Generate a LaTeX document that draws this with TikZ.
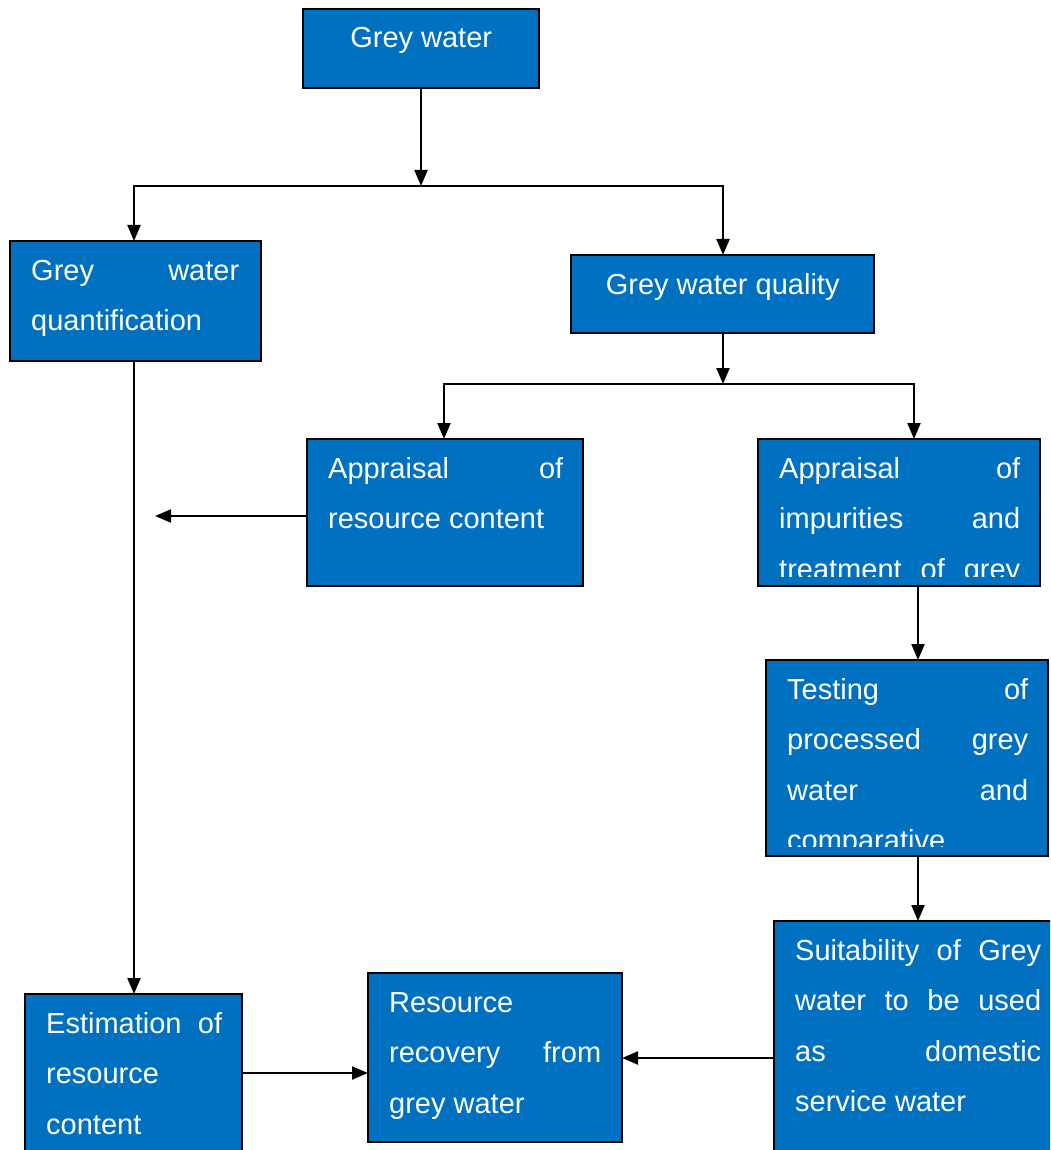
\documentclass[tikz,border=0pt]{standalone}
\usepackage{fontspec}
\setmainfont{Liberation Sans}
\usetikzlibrary{arrows.meta}
\definecolor{boxblue}{HTML}{0070C0}

\begin{document}
\begin{tikzpicture}[
  x=1pt,
  y=-1pt,
  flowbox/.style={rectangle,draw=black,fill=boxblue,line width=1.6pt,inner sep=0pt,outer sep=0pt},
  boxtext/.style={text=white,inner sep=0pt,font=\fontsize{29}{50.5}\selectfont},
  link/.style={draw=black,line width=2.2pt,-{Triangle[length=16pt,width=13pt]}}
]
  \newcommand{\jl}[1]{\makebox[\linewidth][s]{#1}}
  \newcommand{\flowbox}[7]{%
    \node[flowbox,anchor=north west,minimum width={(#4-#2)*1pt},minimum height={(#5-#3)*1pt}] (#1) at (#2,#3) {};
    \begin{scope}
      \clip ([shift={(9pt,-9pt)}]#1.north west) rectangle ([shift={(-9pt,10pt)}]#1.south east);
      \node[boxtext,anchor=base west] (#1-text) at ([shift={(21pt,-39pt)}]#1.north west) {\parbox[t]{#6pt}{#7}};
    \end{scope}
  }

  \useasboundingbox (0,0) rectangle (1050,1150);
  \clip (0,0) rectangle (1050,1150);

  % Boxes, top to bottom.
  \flowbox{gw}{303}{9}{539}{88}{194}{\centering Grey water}
  \flowbox{gwquant}{10}{241}{261}{361}{208}{\jl{Grey water}\\quantification}
  \flowbox{gwqual}{571}{255}{874}{333}{261}{\centering Grey water quality}
  \flowbox{apres}{307}{439}{583}{586}{235}{\jl{Appraisal of}\\resource content}
  \flowbox{apimp}{758}{439}{1040}{586}{241}{\jl{Appraisal of}\\\jl{impurities and}\\\jl{treatment of grey}\\water}
  \flowbox{test}{766}{660}{1048}{856}{241}{\jl{Testing of}\\\jl{processed grey}\\\jl{water and}\\comparative}
  \flowbox{suit}{774}{921}{1062}{1190}{246}{\jl{Suitability of Grey}\\\jl{water to be used}\\\jl{as domestic}\\service water}
  \flowbox{estim}{25}{994}{242}{1190}{176}{\jl{Estimation of}\\resource\\content}
  \flowbox{recov}{368}{973}{622}{1142}{212}{Resource\\\jl{recovery from}\\grey water}

  % First split.
  \coordinate (fork1) at (421,186);
  \coordinate (fork1L) at (134,186);
  \coordinate (fork1R) at (723,186);
  \draw[link] (gw.south) -- (fork1);
  \draw[link] (fork1) -| (fork1L |- gwquant.north);
  \draw[link] (fork1) -| (fork1R |- gwqual.north);

  % Second split.
  \coordinate (fork2) at (723,384);
  \coordinate (fork2L) at (444,384);
  \coordinate (fork2R) at (914,384);
  \draw[link] (fork2 |- gwqual.south) -- (fork2);
  \draw[link] (fork2) -| (fork2L |- apres.north);
  \draw[link] (fork2) -| (fork2R |- apimp.north);

  \coordinate (loose) at (155,516);
  \draw[link] (apres.west |- loose) -- (loose);

  % Left column.
  \draw[link] (fork1L |- gwquant.south) -- (fork1L |- estim.north);

  % Right column.
  \coordinate (spine) at (918,0);
  \draw[link] (spine |- apimp.south) -- (spine |- test.north);
  \draw[link] (spine |- test.south) -- (spine |- suit.north);

  % Bottom row.
  \coordinate (rowA) at (0,1073);
  \coordinate (rowB) at (0,1058);
  \draw[link] (estim.east |- rowA) -- (recov.west |- rowA);
  \draw[link] (suit.west |- rowB) -- (recov.east |- rowB);
\end{tikzpicture}
\end{document}
